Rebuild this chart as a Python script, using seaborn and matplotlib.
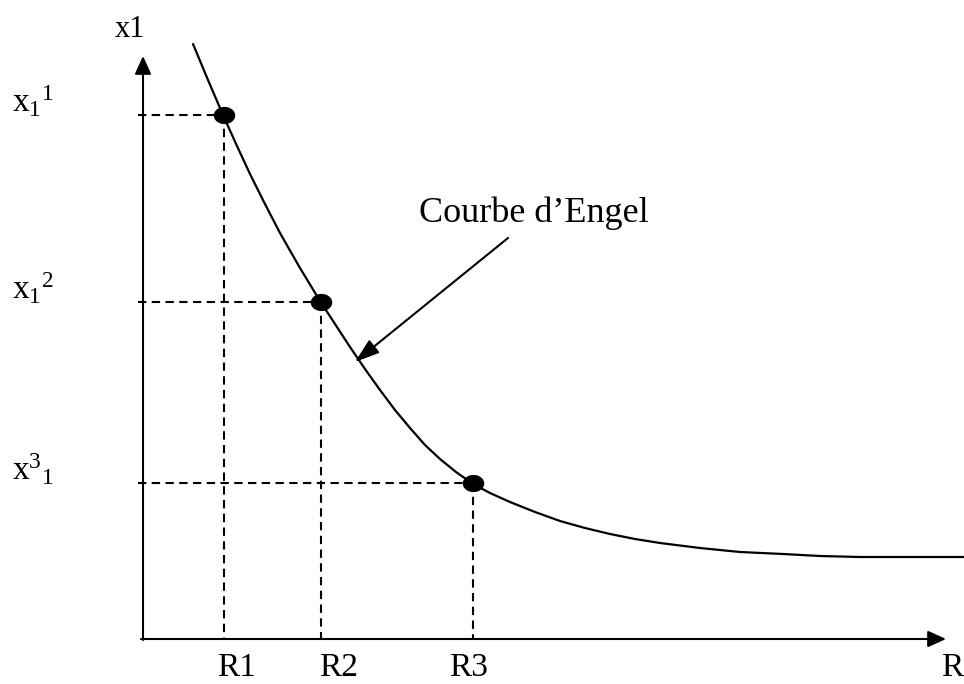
import matplotlib
matplotlib.use('Agg')
import matplotlib.pyplot as plt
import seaborn as sns
import numpy as np
import pandas as pd
from matplotlib.path import Path

# Engel curve (income R on x, quantity x1 on y)
curve_R = [50, 65, 80, 94, 107, 122, 137, 157, 177, 192, 207, 222, 237, 252, 267, 282, 297,
           313, 330, 347, 367, 392, 417, 442, 467, 492, 517, 557, 597, 640, 677, 717, 767, 821]
curve_x1 = [595, 559, 524, 493, 465, 435, 406, 371, 338, 315, 292, 270, 249, 229, 211, 194, 180,
            167, 155, 146, 137, 127, 118, 111, 105, 100, 96, 91, 87, 85, 83, 82, 82, 82]

# the three marked situations
point_R = [81, 178, 330]
point_x1 = [524, 337, 156]
r_labels = ['R1', 'R2', 'R3']
x_labels = [r'$\mathrm{x}_{1}{}^{1}$', r'$\mathrm{x}_{1}{}^{2}$', r'$\mathrm{x}^{3}{}_{1}$']

curve_df = pd.DataFrame({'R': curve_R, 'x1': curve_x1})
points_df = pd.DataFrame({'R': point_R, 'x1': point_x1})

sns.set_style('white')
plt.rcParams['font.family'] = ['Liberation Serif', 'DejaVu Serif']
plt.rcParams['text.color'] = 'black'
plt.rcParams['mathtext.fontset'] = 'custom'
plt.rcParams['mathtext.rm'] = 'Liberation Serif'
plt.rcParams['mathtext.it'] = 'Liberation Serif:italic'

fig = plt.figure(figsize=(9.64, 6.84), dpi=100)
ax = fig.add_axes([0, 0, 1, 1])

# axes with arrow heads
axis_style = dict(arrowstyle='-|>,head_length=1.1,head_width=0.5', lw=1.5, color='black',
                  shrinkA=0, shrinkB=0)
ax.annotate('', xy=(0, 583), xytext=(0, -1), arrowprops=axis_style)
ax.annotate('', xy=(803, 0), xytext=(-2, 0), arrowprops=axis_style)

# dashed guides
dash = (0, (4.0, 2.6))
for r, q in zip(point_R, point_x1):
    ax.plot([-5, r], [q, q], color='black', lw=1.5, linestyle=dash)
    ax.plot([r, r], [q, 0], color='black', lw=1.5, linestyle=dash)

# the curve
sns.lineplot(data=curve_df, x='R', y='x1', color='black', lw=1.6, sort=False, ax=ax)

# elliptical dots
t = np.linspace(0, 2 * np.pi, 40)
ellipse = Path(np.column_stack([np.cos(t), 0.8 * np.sin(t)]))
sns.scatterplot(data=points_df, x='R', y='x1', marker=ellipse, s=240, color='black',
                edgecolor='black', linewidth=0, zorder=5, ax=ax)
ax.set_xlim(-143, 821)
ax.set_ylim(-45, 639)
ax.axis('off')

# labels
ax.text(-13, 602, 'x1', fontsize=22, ha='center', va='baseline')
for lab, y in zip(x_labels, point_x1):
    ax.text(-131, y + 3, lab, fontsize=24, ha='left', va='baseline')
for lab, x in zip(r_labels, [93, 196, 326]):
    ax.text(x, -37, lab, fontsize=24, ha='center', va='baseline')
ax.text(809, -37, 'R', fontsize=24, ha='center', va='baseline')

# annotation
ax.annotate('', xy=(212, 277), xytext=(365, 401),
            arrowprops=dict(arrowstyle='-|>,head_length=1.5,head_width=0.5', lw=1.5,
                            color='black', shrinkA=0, shrinkB=0))
ax.text(391, 417, 'Courbe d\u2019Engel', fontsize=26, ha='center', va='baseline')

fig.savefig('out.png', dpi=100, facecolor='white')
